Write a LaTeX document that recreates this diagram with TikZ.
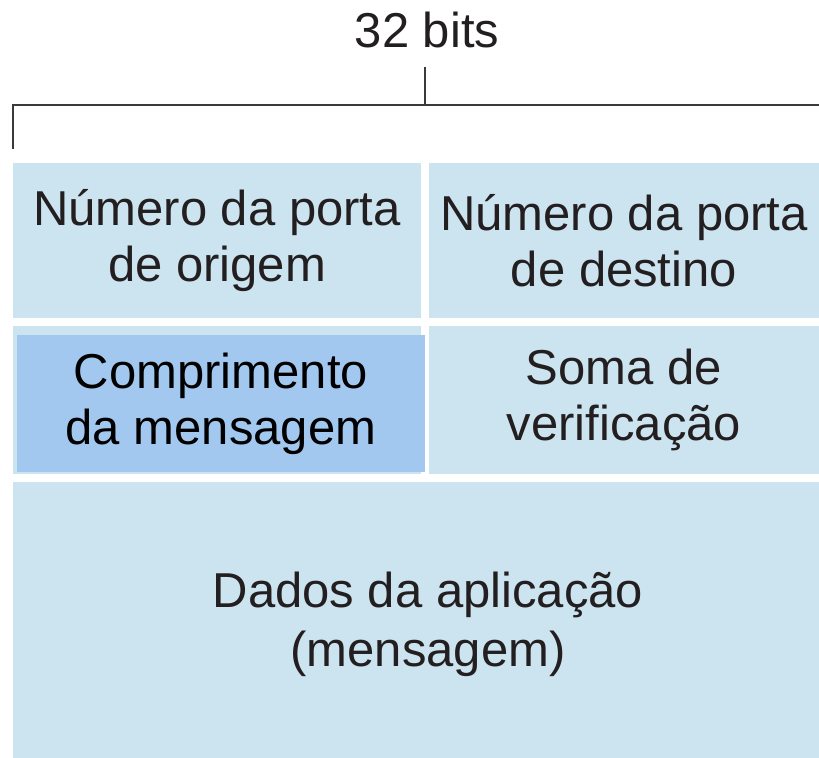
\documentclass[tikz,border=0pt]{standalone}
\usepackage{fontspec}
\setmainfont{Liberation Sans}
\usepackage{xcolor}
\usetikzlibrary{positioning}
\definecolor{fieldblue}{HTML}{CCE3F0}
\definecolor{hiblue}{HTML}{A3C8F0}
\definecolor{txtgray}{HTML}{231F20}
\definecolor{brkgray}{HTML}{3A3A3A}

\begin{document}
\begin{tikzpicture}[
  x=0.5pt, y=-0.5pt,
  fld/.style={fill=fieldblue, inner sep=0pt, align=center, text=txtgray,
    font=\fontsize{24.5}{28}\selectfont},
  hl/.style={fld, fill=hiblue, text=black},
  brk/.style={draw=brkgray, line width=1pt},
  lab/.style={inner sep=0pt, text=txtgray, font=\fontsize{24.5}{28}\selectfont}
]
\useasboundingbox (0,0) rectangle (819,757);

% header with the bracket
\node[lab, anchor=base] (width) at (427,47) {32 bits};
\coordinate (bl) at (13,149);
\coordinate (br) at (819,104.5);
\coordinate (tick) at (425,104.5);
\coordinate (ticktop) at (425,67);
\draw[brk] (bl) |- (br);
\draw[brk] (tick) -- (ticktop);

% header fields
\node[fld, minimum width=204pt, minimum height=77.5pt] (src) at (217,240.5) {Número da porta\\de origem};
\node[fld, minimum width=195pt, minimum height=77.5pt] (dst) at (624,240.5) {Número da porta\\de destino};
\node[fld, minimum width=204pt, minimum height=74pt] (lenbg) at (217,400) {};
\node[hl, minimum width=204pt, minimum height=68.5pt] (len) at (221,403.5) {Comprimento\\da mensagem};
\node[fld, minimum width=195pt, minimum height=74pt] (chk) at (624,400) {Soma de\\verificação};

% payload (runs past the page edge)
\node[fld, font=\fontsize{24.5}{29.5}\selectfont, minimum width=415pt, minimum height=142.5pt] (data) at (428,624.5) {Dados da aplicação\\(mensagem)};
\end{tikzpicture}
\end{document}
